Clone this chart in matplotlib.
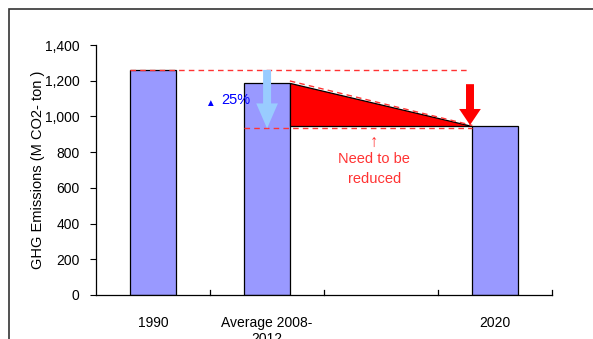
import matplotlib.pyplot as plt
from matplotlib.patches import Polygon, Rectangle, FancyArrow

plt.rcParams['font.family'] = ['Liberation Sans', 'DejaVu Sans']

# data
categories = ['1990', 'Average 2008-\n2012', '', '2020']
emissions = [1261, 1187, None, 946]
target_line = 933
ticks = [0, 200, 400, 600, 800, 1000, 1200, 1400]

fig = plt.figure(figsize=(5.93, 3.39), dpi=100)
ax = fig.add_axes([0.162, 0.13, 0.769, 0.737])

# outer frame like the excel chart area
fig.patches.append(Rectangle((9/593, -0.1), 1.0, 1 - 9/339 + 0.1, transform=fig.transFigure,
                             fill=False, edgecolor='#333333', linewidth=1.2))

xs = [i for i, v in enumerate(emissions) if v is not None]
vals = [v for v in emissions if v is not None]
ax.bar(xs, vals, width=0.4, color='#9999FF', edgecolor='black', linewidth=0.9, zorder=2)

# dashed reference lines
ax.plot([-0.2, 2.75], [emissions[0], emissions[0]], color='#FF3333', ls=(0, (4, 3)), lw=1, zorder=3)
ax.plot([0.8, 2.8], [target_line, target_line], color='#FF3333', ls=(0, (4, 3)), lw=1, zorder=3)

# red triangle (reduction needed)
tri = Polygon([[1.2, emissions[1]], [1.2, 946], [2.8, 946]], closed=True,
              facecolor='red', edgecolor='black', linewidth=0.9, zorder=4)
ax.add_patch(tri)
ax.plot([1.2, 2.8], [emissions[1] + 12, 950], color='#FF3333', ls=(0, (4, 3)), lw=1, zorder=5)

# arrows
ax.add_patch(FancyArrow(1, emissions[0], 0, target_line - emissions[0], width=0.07,
                        head_width=0.19, head_length=140, length_includes_head=True,
                        color='#99CCFF', zorder=5, linewidth=0))
ax.add_patch(FancyArrow(2.78, 1181, 0, 952 - 1181, width=0.07,
                        head_width=0.19, head_length=90, length_includes_head=True,
                        color='red', zorder=5, linewidth=0))

# annotations
ax.text(0.5, 1075, '\u25B2', color='#0000FF', fontsize=7, ha='center', va='center')
ax.text(0.73, 1093, '25%', color='#0000FF', fontsize=10.5, ha='center', va='center')
ax.text(1.94, 855, '\u2191', color='#FF3333', fontsize=12, ha='center', va='center')
ax.text(1.94, 705, 'Need to be\nreduced', color='#FF3333', fontsize=10.5, ha='center',
        va='center', linespacing=1.5)

ax.set_xlim(-0.5, 3.5)
ax.set_ylim(0, 1400)
ax.set_yticks(ticks)
ax.set_yticklabels([f'{t:,}' for t in ticks], fontsize=10)
ax.set_xticks([0, 1, 2, 3])
ax.set_xticklabels(categories, fontsize=10, va='top')
ax.tick_params(axis='x', length=0, pad=15)
ax.tick_params(axis='y', length=4, direction='out', color='black', pad=8)
for xb in [0.5, 1.5, 2.5, 3.5]:
    ax.plot([xb, xb], [0, 25], color='black', lw=0.9, clip_on=False, zorder=1)
ax.spines['top'].set_visible(False)
ax.spines['right'].set_visible(False)
ax.spines['left'].set_linewidth(0.9)
ax.spines['bottom'].set_linewidth(0.9)
ax.set_ylabel('GHG Emissions (M CO2- ton )', fontsize=10.5, labelpad=0)

fig.savefig('out.png', dpi=100)
